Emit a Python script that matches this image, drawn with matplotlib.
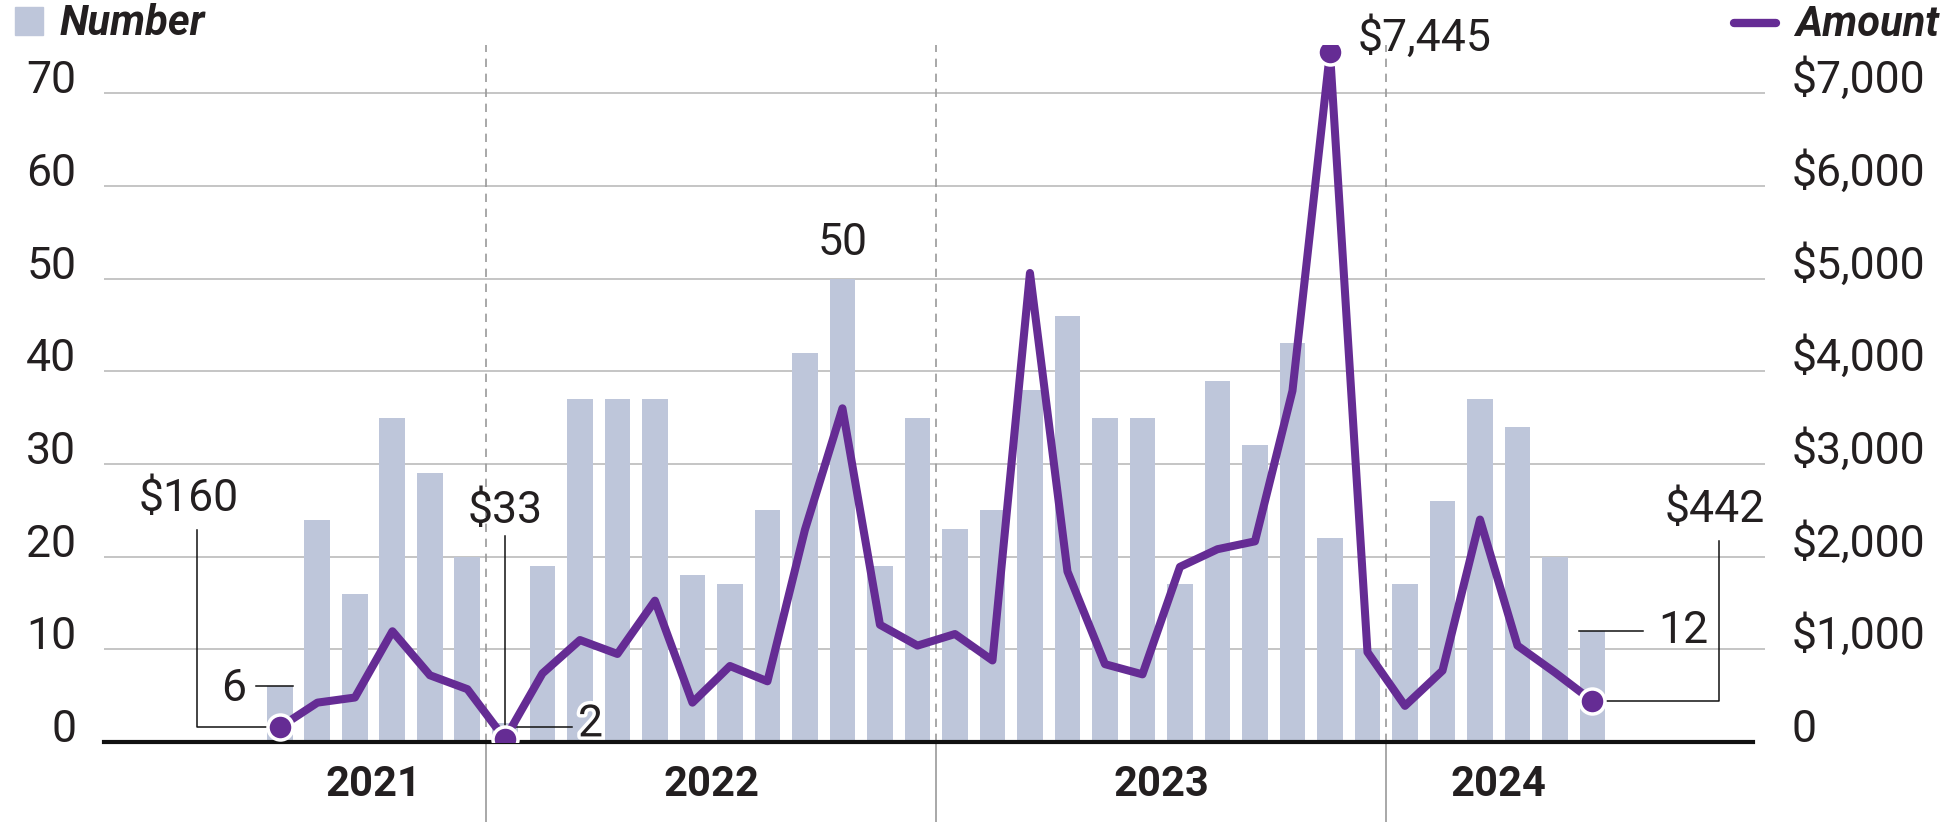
import matplotlib.pyplot as plt
import matplotlib.patheffects as pe
from matplotlib.patches import Rectangle
from matplotlib.lines import Line2D
import numpy as np

plt.rcParams['font.family'] = ['Roboto', 'DejaVu Sans']

# monthly data, Jul 2021 - Jun 2024
counts = [6, 24, 16, 35, 29, 20,
          2, 19, 37, 37, 37, 18, 17, 25, 42, 50, 19, 35,
          23, 25, 38, 46, 35, 35, 17, 39, 32, 43, 22, 10,
          17, 26, 37, 34, 20, 12]
amounts = [160, 425, 480, 1195, 720, 570,
           33, 740, 1100, 950, 1525, 425, 820, 655, 2290, 3600, 1265, 1040,
           1165, 880, 5060, 1840, 840, 730, 1890, 2080, 2165, 3790, 7445, 970,
           390, 770, 2400, 1040, 750, 442]
years = ['2021', '2022', '2023', '2024']
year_months = [6, 12, 12, 6]
num_ticks = [0, 10, 20, 30, 40, 50, 60, 70]
amt_ticks = [0, 1000, 2000, 3000, 4000, 5000, 6000, 7000]
amt_labels = ['0', '$1,000', '$2,000', '$3,000', '$4,000', '$5,000', '$6,000', '$7,000']

bar_color = '#bec6da'
purple = '#652c94'
text_color = '#231f20'
grid_color = '#b5b5b5'
fs = 32

x = np.arange(len(counts))
ymax = 75.2

fig = plt.figure(figsize=(19.52, 8.22), dpi=100)
ax = fig.add_axes([0.0533, 0.0973, 0.9042 - 0.0533, 0.9453 - 0.0973])
ax2 = ax.twinx()

ax.bar(x, counts, width=0.69, color=bar_color, zorder=2)
ax.set_xlim(-4.69, 39.6)
ax.set_ylim(0, ymax)
ax2.set_ylim(0, ymax * 100)

for v in num_ticks[1:]:
    ax.axhline(v, color=grid_color, lw=1.1, zorder=0)

# year dividers
edges = np.cumsum(year_months)[:-1] - 0.5
for e in edges:
    ax.axvline(e, ymin=0, ymax=1, color='#9a9a9a', lw=1.2, ls=(0, (5, 4)), zorder=1.5)
    ax.axvline(e, ymin=-80 / 697, ymax=0, color='#9a9a9a', lw=1.2, clip_on=False)

starts = np.concatenate([[0], np.cumsum(year_months)[:-1]])
centers = starts + (np.array(year_months) - 1) / 2
ax.set_xticks(centers)
ax.set_xticklabels(years, fontsize=30, fontweight='bold', color=text_color)
ax.tick_params(axis='x', length=0, pad=16)

ax.set_yticks(num_ticks)
ax.set_yticklabels([str(v) for v in num_ticks], fontsize=fs, color=text_color)
ax.tick_params(axis='y', length=0, pad=20)
for lab in ax.get_yticklabels():
    lab.set_verticalalignment('baseline')

ax2.set_yticks(amt_ticks)
ax2.set_yticklabels(amt_labels, fontsize=fs, color=text_color)
ax2.tick_params(axis='y', length=0, pad=19)
for lab in ax2.get_yticklabels():
    lab.set_verticalalignment('baseline')

for a in (ax, ax2):
    for s in ('top', 'left', 'right'):
        a.spines[s].set_visible(False)
ax2.spines['bottom'].set_visible(False)
ax.spines['bottom'].set_linewidth(3)
ax.spines['bottom'].set_color('#111111')
ax.spines['bottom'].set_bounds(-4.69, 39.28)
ax.spines['bottom'].set_zorder(3)

# amount line
ax2.plot(x, amounts, color=purple, lw=5.8, solid_joinstyle='round', zorder=4)
dots = [0, 6, 28, 35]
ax2.plot(x[dots], np.array(amounts)[dots], 'o', ms=18, mfc=purple, mec='white', mew=2.5, zorder=5)

# annotations
kw = dict(fontsize=fs, color=text_color)
lk = dict(color='#111111', lw=1.1, zorder=3.5)
ax.text(-0.91, 5.7, '6', ha='right', va='center', **kw)
ax.plot([-0.64, 0.35], [6, 6], **lk)
ax2.text(-2.43, 2620, '$160', ha='center', va='center', **kw)
ax2.plot([0, -2.2, -2.2], [160, 160, 2290], **lk)
ax2.text(6, 2490, '$33', ha='center', va='center', **kw)
ax2.plot([6, 6], [33, 2220], **lk)
ax.text(7.95, 1.9, '2', ha='left', va='center',
        path_effects=[pe.withStroke(linewidth=5, foreground='white')], **kw)
ax.plot([6.3, 7.8], [1.6, 1.6], **lk)
ax.text(15, 51.6, '50', ha='center', va='bottom', **kw)
ax2.text(28.75, 7600, '$7,445', ha='left', va='center', **kw)
ax.text(36.75, 12.0, '12', ha='left', va='center', **kw)
ax.plot([34.65, 36.35], [12, 12], **lk)
ax2.text(38.27, 2500, '$442', ha='center', va='center', **kw)
ax2.plot([35, 38.37, 38.37], [442, 442, 2170], **lk)

ax.set_zorder(1)
ax2.set_zorder(2)
ax.patch.set_visible(False)

# legend
fig.patches.append(Rectangle((15 / 1952, 1 - 35 / 822), 28 / 1952, 28 / 822,
                             transform=fig.transFigure, color=bar_color))
fig.text(60 / 1952, 1 - 35 / 822, 'Number', fontsize=30, fontweight='bold',
         fontstyle='italic', color=text_color, va='baseline')
fig.lines.append(Line2D([1734 / 1952, 1776 / 1952], [1 - 23 / 822, 1 - 23 / 822],
                        transform=fig.transFigure, color=purple, lw=6,
                        solid_capstyle='round'))
fig.text(1795 / 1952, 1 - 36 / 822, 'Amount', fontsize=30, fontweight='bold',
         fontstyle='italic', color=text_color, va='baseline')

fig.savefig('out.png', dpi=100)
